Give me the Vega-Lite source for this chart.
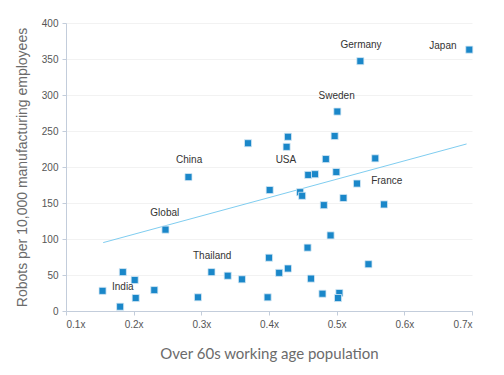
{
  "$schema": "https://vega.github.io/schema/vega-lite/v6.json",
  "width": 406,
  "height": 288,
  "autosize": "none",
  "padding": {"left": 66, "top": 23, "right": 32, "bottom": 64},
  "background": "white",
  "config": {"view": {"stroke": null}},
  "datasets": {
    "points": [
      {"age": 0.696, "robots": 363},
      {"age": 0.535, "robots": 347},
      {"age": 0.501, "robots": 277},
      {"age": 0.428, "robots": 242},
      {"age": 0.497, "robots": 243},
      {"age": 0.426, "robots": 228},
      {"age": 0.369, "robots": 233},
      {"age": 0.484, "robots": 211},
      {"age": 0.557, "robots": 212},
      {"age": 0.281, "robots": 186},
      {"age": 0.458, "robots": 189},
      {"age": 0.468, "robots": 190},
      {"age": 0.4995, "robots": 193},
      {"age": 0.530, "robots": 177},
      {"age": 0.401, "robots": 168},
      {"age": 0.446, "robots": 165},
      {"age": 0.449, "robots": 160},
      {"age": 0.481, "robots": 147},
      {"age": 0.510, "robots": 157},
      {"age": 0.570, "robots": 148},
      {"age": 0.247, "robots": 113},
      {"age": 0.491, "robots": 105},
      {"age": 0.457, "robots": 88},
      {"age": 0.400, "robots": 74},
      {"age": 0.547, "robots": 65},
      {"age": 0.428, "robots": 59},
      {"age": 0.415, "robots": 53},
      {"age": 0.184, "robots": 54},
      {"age": 0.315, "robots": 54},
      {"age": 0.339, "robots": 49},
      {"age": 0.360, "robots": 44},
      {"age": 0.462, "robots": 45},
      {"age": 0.2015, "robots": 43},
      {"age": 0.154, "robots": 28},
      {"age": 0.2305, "robots": 29},
      {"age": 0.479, "robots": 24},
      {"age": 0.504, "robots": 25},
      {"age": 0.203, "robots": 18},
      {"age": 0.295, "robots": 19},
      {"age": 0.398, "robots": 19},
      {"age": 0.502, "robots": 18},
      {"age": 0.180, "robots": 6}
    ],
    "trend": [
      {"age": 0.155, "robots": 95},
      {"age": 0.692, "robots": 232}
    ],
    "labels": [
      {"age": 0.657, "robots": 368, "name": "Japan"},
      {"age": 0.536, "robots": 369, "name": "Germany"},
      {"age": 0.500, "robots": 299, "name": "Sweden"},
      {"age": 0.425, "robots": 210, "name": "USA"},
      {"age": 0.282, "robots": 210, "name": "China"},
      {"age": 0.246, "robots": 136, "name": "Global"},
      {"age": 0.316, "robots": 76, "name": "Thailand"},
      {"age": 0.184, "robots": 33, "name": "India"},
      {"age": 0.574, "robots": 180, "name": "France"}
    ]
  },
  "encoding": {
    "x": {
      "field": "age", "type": "quantitative",
      "scale": {"domain": [0.1, 0.7], "nice": false, "zero": false},
      "axis": {
        "title": "Over 60s working age population",
        "values": [0.1, 0.2, 0.3, 0.4, 0.5, 0.6, 0.7],
        "labelExpr": "format(datum.value, '.1f') + 'x'",
        "grid": false,
        "domainColor": "#c3cddb", "tickColor": "#c3cddb", "tickSize": 4,
        "labelFont": "Liberation Sans", "labelFontSize": 10, "labelColor": "#555555", "labelPadding": 4,
        "titleFont": "Lato", "titleFontSize": 15, "titleFontWeight": "normal", "titleColor": "#6b6b6b", "titlePadding": 17
      }
    },
    "y": {
      "field": "robots", "type": "quantitative",
      "scale": {"domain": [0, 400], "nice": false},
      "axis": {
        "title": "Robots per 10,000 manufacturing employees",
        "values": [0, 50, 100, 150, 200, 250, 300, 350, 400],
        "grid": true, "gridColor": "#f2f2f2",
        "domainColor": "#c3cddb", "tickColor": "#c3cddb", "tickSize": 4,
        "labelFont": "Liberation Sans", "labelFontSize": 10, "labelColor": "#555555", "labelPadding": 4,
        "titleFont": "Liberation Sans", "titleFontSize": 14, "titleFontWeight": "normal", "titleColor": "#6b6b6b", "titlePadding": 12
      }
    }
  },
  "layer": [
    {
      "data": {"name": "trend"},
      "mark": {"type": "line", "color": "#7fcdf0", "strokeWidth": 1}
    },
    {
      "data": {"name": "points"},
      "mark": {"type": "square", "size": 50, "filled": true, "color": "#1a87c9", "opacity": 1, "stroke": "#d6e9f5", "strokeWidth": 0.8}
    },
    {
      "data": {"name": "labels"},
      "mark": {"type": "text", "font": "Liberation Sans", "fontSize": 10, "color": "#333333", "align": "center", "baseline": "middle"},
      "encoding": {"text": {"field": "name", "type": "nominal"}}
    }
  ]
}
